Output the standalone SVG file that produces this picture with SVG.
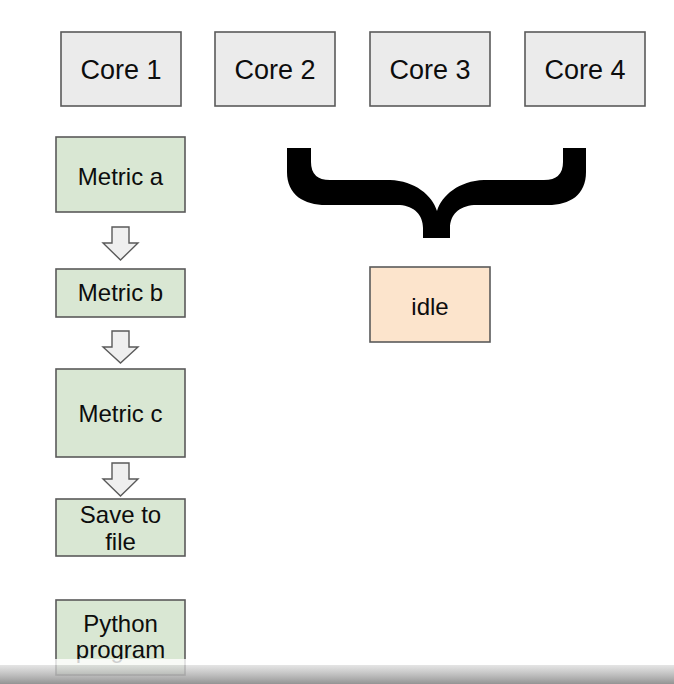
<svg xmlns="http://www.w3.org/2000/svg" width="674" height="684" viewBox="0 0 674 684">
<defs>
<style>
.box{stroke:#5a5a5a;stroke-width:1.6}
.core{fill:#ebebeb}
.green{fill:#d9e7d3}
.peach{fill:#fce4cc}
.lbl{font-family:"Liberation Sans",Arial,sans-serif;fill:#0d0d0d;text-anchor:middle}
.big{font-size:27px}
.mid{font-size:24px}
.arr{fill:#efefef;stroke:#5a5a5a;stroke-width:1.4;stroke-linejoin:miter}
</style>
<linearGradient id="bar" x1="0" y1="0" x2="0" y2="1">
<stop offset="0" stop-color="#dcdcdc" stop-opacity="0.75"/>
<stop offset="1" stop-color="#8e8e8e" stop-opacity="0.95"/>
</linearGradient>
</defs>
<rect width="674" height="684" fill="#ffffff"/>
<g id="core1"><rect class="box core" x="61" y="32" width="120" height="74"/><text class="lbl big" x="121" y="79">Core 1</text></g>
<g id="core2"><rect class="box core" x="215" y="32" width="120" height="74"/><text class="lbl big" x="275" y="79">Core 2</text></g>
<g id="core3"><rect class="box core" x="370" y="32" width="120" height="74"/><text class="lbl big" x="430" y="79">Core 3</text></g>
<g id="core4"><rect class="box core" x="525" y="32" width="120" height="74"/><text class="lbl big" x="585" y="79">Core 4</text></g>
<g id="metric-a"><rect class="box green" x="56" y="137" width="129" height="75"/><text class="lbl mid" x="120.5" y="185">Metric a</text></g>
<g id="metric-b"><rect class="box green" x="56" y="269" width="129" height="48"/><text class="lbl mid" x="120.5" y="301">Metric b</text></g>
<g id="metric-c"><rect class="box green" x="56" y="369" width="129" height="88"/><text class="lbl mid" x="120.5" y="422">Metric c</text></g>
<g id="save"><rect class="box green" x="56" y="499" width="129" height="57"/><text class="lbl mid" x="120.5" y="523">Save to</text><text class="lbl mid" x="120.5" y="550">file</text></g>
<g id="python"><rect class="box green" x="56" y="600" width="129" height="75"/><text class="lbl mid" x="120.5" y="632">Python</text><text class="lbl mid" x="120.5" y="658">program</text></g>
<g id="idle"><rect class="box peach" x="370" y="267" width="120" height="75"/><text class="lbl mid" x="430" y="315">idle</text></g>
<g id="brace">
<path fill="#000" d="M287,148 L311,148 L311,162 Q311,180 330,180 L390,180 C415,181 432,195 437,211 C442,195 459,181 484,180 L544,180 Q563,180 563,162 L563,148 L586,148 L586,172 C586,195 570,205 548,205 L474,205 C459,206 450,215 450,228 L450,238 L423,238 L423,228 C423,215 414,206 400,205 L326,205 C304,205 287,195 287,172 Z"/>
</g>
<g id="connectors">
<path class="arr" d="M112,227 L129,227 L129,243 L138,243 L120.5,260 L103,243 L112,243 Z"/>
<path class="arr" d="M112,331 L129,331 L129,347 L138,347 L120.5,363 L103,347 L112,347 Z"/>
<path class="arr" d="M112,463 L129,463 L129,479 L138,479 L120.5,496 L103,479 L112,479 Z"/>
</g>
<rect x="0" y="659" width="674" height="6" fill="#ffffff" opacity="0.8"/>
<rect x="0" y="665" width="674" height="19" fill="url(#bar)"/>
</svg>
